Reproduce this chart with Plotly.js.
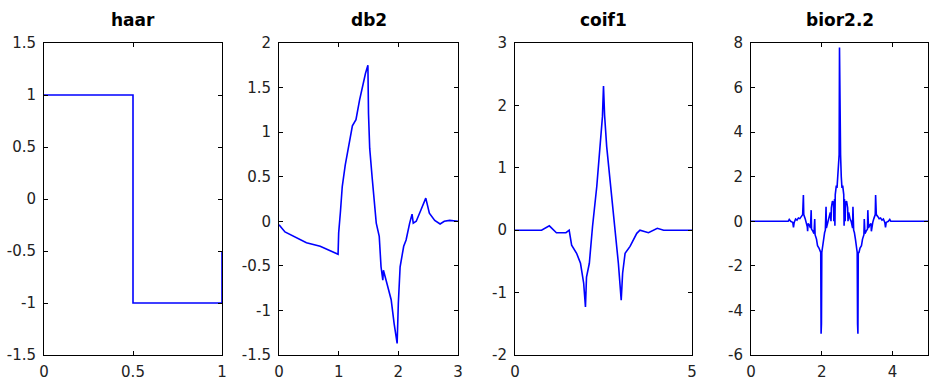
<!DOCTYPE html>
<html><head><meta charset="utf-8">
<script src="https://cdn.plot.ly/plotly-3.0.1.min.js"></script>
<style>html,body{margin:0;padding:0;background:#fff}#chart{width:930px;height:381px}</style>
</head><body><div id="chart"></div>
<script>
// ---- data ----
const titles = ["haar", "db2", "coif1", "bior2.2"];

const haarX = [0, 0.5, 0.5, 1, 1];
const haarY = [1, 1, -1, -1, -0.5];

const db2X = [0, 0.1, 0.46, 0.69, 0.99, 1.0, 1.03, 1.06, 1.11, 1.16, 1.23, 1.29, 1.35, 1.45, 1.49, 1.5, 1.52, 1.56, 1.63, 1.68, 1.71, 1.74, 1.75, 1.81, 1.88, 1.93, 1.98, 2.0, 2.03, 2.09, 2.13, 2.19, 2.23, 2.25, 2.30, 2.38, 2.46, 2.52, 2.61, 2.70, 2.77, 2.86, 3.0];
const db2Y = [-0.04, -0.12, -0.24, -0.28, -0.37, -0.13, 0.11, 0.39, 0.63, 0.80, 1.07, 1.14, 1.36, 1.66, 1.75, 1.21, 0.82, 0.50, -0.02, -0.17, -0.51, -0.66, -0.55, -0.70, -0.88, -1.15, -1.37, -0.92, -0.51, -0.28, -0.21, -0.02, 0.08, -0.02, 0.0, 0.13, 0.26, 0.09, 0.01, -0.03, 0.0, 0.01, 0.0];

const coifX = [0, 0.75, 0.97, 1.17, 1.44, 1.53, 1.60, 1.74, 1.85, 1.94, 1.99, 2.02, 2.10, 2.19, 2.31, 2.40, 2.47, 2.50, 2.53, 2.59, 2.70, 2.82, 2.92, 3.0, 3.04, 3.11, 3.25, 3.44, 3.53, 3.77, 4.02, 4.2, 5];
const coifY = [0, 0, 0.07, -0.04, -0.04, 0.0, -0.24, -0.37, -0.53, -0.85, -1.23, -0.75, -0.53, 0.06, 0.70, 1.34, 1.82, 2.31, 1.85, 1.34, 0.70, 0.06, -0.53, -1.12, -0.69, -0.37, -0.26, -0.05, 0.0, -0.04, 0.03, 0, 0];

const biorX = [0, 1.05, 1.08, 1.12, 1.18, 1.20, 1.22, 1.26, 1.30, 1.34, 1.38, 1.42, 1.46, 1.48, 1.49, 1.53, 1.56, 1.59, 1.60, 1.61, 1.64, 1.68, 1.70, 1.71, 1.75, 1.78, 1.80, 1.81, 1.85, 1.88, 1.92, 1.95, 1.97, 1.98, 1.99, 2.00, 2.02, 2.05, 2.08, 2.10, 2.12, 2.13, 2.17, 2.20, 2.24, 2.26, 2.27, 2.30, 2.33, 2.34, 2.36, 2.37, 2.38, 2.41, 2.43, 2.45, 2.47, 2.49, 2.50, 2.51, 2.53, 2.55, 2.57, 2.59, 2.62, 2.63, 2.64, 2.66, 2.67, 2.70, 2.73, 2.74, 2.76, 2.80, 2.83, 2.87, 2.88, 2.90, 2.92, 2.95, 2.98, 3.00, 3.01, 3.02, 3.03, 3.05, 3.08, 3.12, 3.15, 3.19, 3.20, 3.22, 3.25, 3.29, 3.30, 3.32, 3.36, 3.39, 3.40, 3.41, 3.44, 3.47, 3.51, 3.52, 3.54, 3.58, 3.62, 3.66, 3.70, 3.74, 3.78, 3.80, 3.82, 3.88, 3.92, 3.95, 5];
const biorY = [0, 0, 0.08, 0.0, -0.05, -0.27, -0.05, 0.1, 0.05, 0.15, 0.12, 0.22, 0.3, 1.18, 0.3, 0.12, -0.05, -0.25, -0.45, -0.1, -0.15, -0.3, 0.5, -0.35, -0.45, -0.55, 0.1, -0.6, -0.8, -1.1, -1.2, -1.4, -1.4, -5.05, -4.6, -1.4, -1.1, -0.8, -0.5, -0.4, 0.65, -0.3, 0.0, 0.1, 0.4, 0.0, 0.6, 0.9, 0.85, 0.0, 1.0, -0.2, 1.2, 1.6, 1.5, 2.0, 3.0, 3.0, 7.8, 3.0, 3.0, 2.0, 1.5, 1.6, 1.2, -0.2, 1.0, 0.0, 0.85, 0.9, 0.6, 0.0, 0.4, 0.1, 0.0, -0.3, 0.65, -0.4, -0.5, -0.8, -1.1, -1.4, -4.6, -5.05, -1.4, -1.4, -1.2, -1.1, -0.8, -0.6, 0.1, -0.55, -0.45, -0.35, 0.5, -0.3, -0.15, -0.1, -0.45, -0.25, -0.05, 0.12, 0.3, 1.18, 0.3, 0.22, 0.12, 0.15, 0.05, 0.1, -0.05, -0.27, -0.05, 0.0, 0.08, 0, 0];

const xRanges = [[0, 1], [0, 3], [0, 5], [0, 5]];
const yRanges = [[-1.5, 1.5], [-1.5, 2], [-2, 3], [-6, 8]];
const xTickVals = [[0, 0.5, 1], [0, 1, 2, 3], [0, 5], [0, 2, 4]];
const xTickText = [["0", "0.5", "1"], ["0", "1", "2", "3"], ["0", "5"], ["0", "2", "4"]];
const yTickVals = [[-1.5, -1, -0.5, 0, 0.5, 1, 1.5], [-1.5, -1, -0.5, 0, 0.5, 1, 1.5, 2], [-2, -1, 0, 1, 2, 3], [-6, -4, -2, 0, 2, 4, 6, 8]];
const yTickText = [["-1.5", "-1", "-0.5", "0", "0.5", "1", "1.5"], ["-1.5", "-1", "-0.5", "0", "0.5", "1", "1.5", "2"], ["-2", "-1", "0", "1", "2", "3"], ["-6", "-4", "-2", "0", "2", "4", "6", "8"]];

// ---- layout ----
const W = 930, H = 381;
const pxL = [44, 279, 515, 751], pxR = [222, 458, 692, 928];
const yTop = 43, yBot = 355;
const series = [[haarX, haarY], [db2X, db2Y], [coifX, coifY], [biorX, biorY]];

const tickFont = {family: "DejaVu Sans, sans-serif", size: 15, color: "#222"};
const traces = [];
const layout = {
  width: W, height: H,
  margin: {l: 0, r: 0, t: 0, b: 0},
  paper_bgcolor: "#fff", plot_bgcolor: "#fff",
  showlegend: false,
  annotations: []
};
for (let i = 0; i < 4; i++) {
  const s = i === 0 ? "" : String(i + 1);
  traces.push({
    x: series[i][0], y: series[i][1], type: "scatter", mode: "lines",
    line: {color: "#0000ff", width: 1.6},
    xaxis: "x" + s, yaxis: "y" + s, hoverinfo: "skip"
  });
  const common = {
    showline: true, linecolor: "#000", linewidth: 1, mirror: "ticks",
    ticks: "inside", ticklen: 4, tickcolor: "#000", tickwidth: 1,
    showgrid: false, zeroline: false, tickfont: tickFont, fixedrange: true,
    tickmode: "array"
  };
  layout["xaxis" + s] = Object.assign({}, common, {
    domain: [pxL[i] / W, pxR[i] / W], range: xRanges[i], anchor: "y" + s,
    tickvals: xTickVals[i], ticktext: xTickText[i], ticklabelstandoff: 3
  });
  layout["yaxis" + s] = Object.assign({}, common, {
    domain: [1 - yBot / H, 1 - yTop / H], range: yRanges[i], anchor: "x" + s,
    tickvals: yTickVals[i], ticktext: yTickText[i], ticklabelstandoff: 4
  });
  layout.annotations.push({
    text: "<b>" + titles[i] + "</b>", showarrow: false,
    xref: "paper", yref: "paper",
    x: (pxL[i] + pxR[i]) / 2 / W, y: 1 - 20 / H, xanchor: "center", yanchor: "middle",
    font: {family: "DejaVu Sans, sans-serif", size: 17, color: "#000"}
  });
}
Plotly.newPlot("chart", traces, layout, {staticPlot: true, displayModeBar: false});
</script></body></html>
